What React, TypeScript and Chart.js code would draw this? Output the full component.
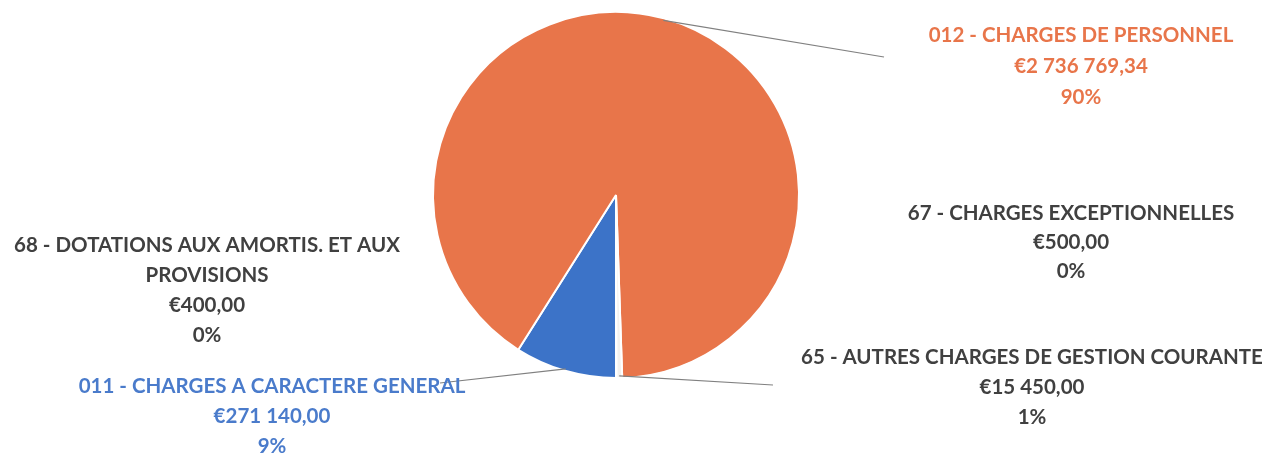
import React, { useEffect, useRef } from "react";
import { Chart, registerables } from "chart.js";

Chart.register(...registerables);

const categories = [
  "011 - CHARGES A CARACTERE GENERAL",
  "012 - CHARGES DE PERSONNEL",
  "65 - AUTRES CHARGES DE GESTION COURANTE",
  "67 - CHARGES EXCEPTIONNELLES",
  "68 - DOTATIONS AUX AMORTIS. ET AUX PROVISIONS",
];
const values = [271140.0, 2736769.34, 15450.0, 500.0, 400.0];
const valueLabels = ["€271 140,00", "€2 736 769,34", "€15 450,00", "€500,00", "€400,00"];
const percentLabels = ["9%", "90%", "1%", "0%", "0%"];
const sliceColors = ["#3C73C8", "#E8754A", "#F3F1EE", "#F2C75A", "#7FA8D8"];
const labelColors = ["#4A7BCB", "#E8754A", "#404040", "#404040", "#404040"];

// label layout: category lines (wrapped), centre x, first line y, line gap, leader end
const labelLayout = [
  { lines: ["011 - CHARGES A CARACTERE GENERAL"], x: 272, y: 386, gap: 30, leader: [440, 383] },
  { lines: ["012 - CHARGES DE PERSONNEL"], x: 1081, y: 35, gap: 31, leader: [884, 57] },
  { lines: ["65 - AUTRES CHARGES DE GESTION COURANTE"], x: 1032, y: 357, gap: 30, leader: [773, 385] },
  { lines: ["67 - CHARGES EXCEPTIONNELLES"], x: 1071, y: 213, gap: 29, leader: null },
  { lines: ["68 - DOTATIONS AUX AMORTIS. ET AUX", "PROVISIONS"], x: 207, y: 245, gap: 30, leader: null },
];

const labelPlugin = {
  id: "excelLabels",
  afterDatasetsDraw(chart: any) {
    const ctx = chart.ctx;
    const meta = chart.getDatasetMeta(0);
    ctx.save();
    meta.data.forEach((arc: any, i: number) => {
      const lay = labelLayout[i];
      if (!lay.leader) return;
      const p = arc.getProps(["x", "y", "startAngle", "endAngle", "outerRadius"], true);
      const mid = (p.startAngle + p.endAngle) / 2;
      const sx = p.x + Math.cos(mid) * (p.outerRadius - 2);
      const sy = p.y + Math.sin(mid) * (p.outerRadius - 2);
      ctx.beginPath();
      ctx.strokeStyle = "#808080";
      ctx.lineWidth = 1.2;
      ctx.moveTo(sx, sy);
      ctx.lineTo(lay.leader[0], lay.leader[1]);
      ctx.stroke();
    });
    ctx.textAlign = "center";
    ctx.textBaseline = "middle";
    ctx.font = "bold 20.5px Lato, 'Open Sans', sans-serif";
    labelLayout.forEach((lay, i) => {
      ctx.fillStyle = labelColors[i];
      const rows = [...lay.lines, valueLabels[i], percentLabels[i]];
      rows.forEach((t, k) => {
        ctx.fillText(t, lay.x, lay.y + k * lay.gap);
      });
    });
    ctx.restore();
  },
};

export default function App() {
  const ref = useRef<HTMLCanvasElement | null>(null);
  useEffect(() => {
    if (!ref.current) return;
    const chart = new Chart(ref.current, {
      type: "pie",
      data: {
        labels: categories,
        datasets: [
          {
            data: values,
            backgroundColor: sliceColors,
            borderColor: "#FFFFFF",
            borderWidth: 2,
          },
        ],
      },
      options: {
        responsive: false,
        animation: false,
        rotation: 180,
        layout: { padding: { top: 11, bottom: 74, left: 0, right: 43 } },
        plugins: {
          legend: { display: false },
          tooltip: { enabled: false },
          title: { display: false },
        },
      },
      plugins: [labelPlugin],
    });
    return () => chart.destroy();
  }, []);
  return (
    <div style={{ position: "fixed", left: 0, top: 0, width: 1275, height: 453, background: "#FFFFFF" }}>
      <canvas ref={ref} width={1275} height={453} style={{ width: 1275, height: 453, display: "block" }} />
    </div>
  );
}
